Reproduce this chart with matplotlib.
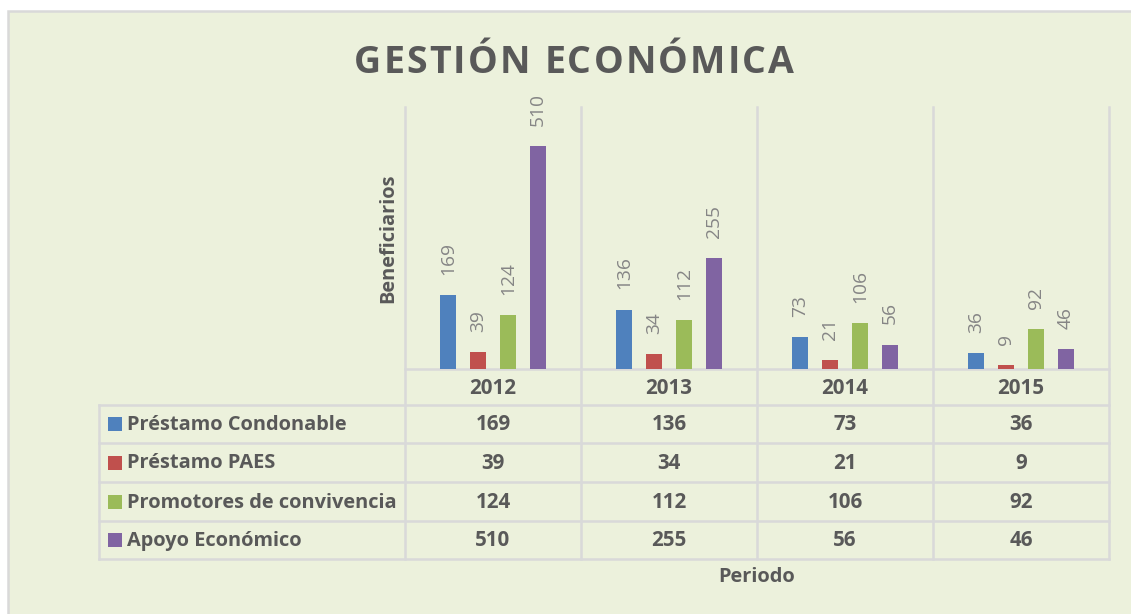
import matplotlib
matplotlib.use("Agg")
import matplotlib.pyplot as plt
from matplotlib.patches import Rectangle
from matplotlib.font_manager import FontProperties, findfont
from matplotlib.ft2font import FT2Font
import numpy as np

# ---- data ----
years = ["2012", "2013", "2014", "2015"]
series_names = ["Préstamo Condonable", "Préstamo PAES",
                "Promotores de convivencia", "Apoyo Económico"]
prestamo_condonable = [169, 136, 73, 36]
prestamo_paes = [39, 34, 21, 9]
promotores = [124, 112, 106, 92]
apoyo_economico = [510, 255, 56, 46]
series_values = [prestamo_condonable, prestamo_paes, promotores, apoyo_economico]
colors = ["#4F81BD", "#C0504D", "#9BBB59", "#8064A2"]

title = "GESTIÓN ECONÓMICA"
ylabel = "Beneficiarios"
xlabel = "Periodo"

# ---- style ----
FONT = "Open Sans"
BG = "#ECF1DC"
GRID = "#D9D9D9"
DARK = "#595959"
LABEL = "#858585"

W, H = 1131, 614
fig = plt.figure(figsize=(W / 100, H / 100), dpi=100)
fig.patch.set_facecolor("white")

# overlay axes in pixel coordinates
ov = fig.add_axes([0, 0, 1, 1], zorder=0)
ov.set_xlim(0, W)
ov.set_ylim(H, 0)
ov.axis("off")
ov.add_patch(Rectangle((8, 11), W + 10, H + 10, facecolor=BG,
                       edgecolor=GRID, linewidth=1.8))

# plot area geometry (pixels)
pl, pr, pbase, ptop = 405, 1109, 369, 107
col_w = (pr - pl) / len(years)
row_edges = [405, 443, 482, 521, 559]
tleft = 99

# bar axes
ax = fig.add_axes([pl / W, 1 - pbase / H, (pr - pl) / W, (pbase - ptop) / H],
                  zorder=2)
ax.patch.set_alpha(0)
ax.set_xlim(-0.5, len(years) - 0.5)
ax.set_ylim(0, 600)
for s in ax.spines.values():
    s.set_visible(False)
ax.set_xticks([])
ax.set_yticks([])

x = np.arange(len(years))
pitch = 0.1705
bw = 0.091
for i, (vals, c) in enumerate(zip(series_values, colors)):
    xs = x + (i - 1.5) * pitch
    ax.bar(xs, vals, width=bw, color=c, zorder=3)
    for xi, v in zip(xs, vals):
        ax.annotate(str(v), (xi, v), xytext=(0, 14.5), textcoords="offset points",
                    rotation=90, ha="center", va="bottom", fontsize=13.8,
                    color=LABEL, family=FONT)

# grid / table lines
lw = 1.8
for k in range(len(years) + 1):
    xk = pl + k * col_w
    ov.plot([xk, xk], [ptop, row_edges[-1]], color=GRID, lw=lw, zorder=1)
ov.plot([pl, pr], [pbase, pbase], color=GRID, lw=lw, zorder=1)
for ye in row_edges:
    ov.plot([tleft, pr], [ye, ye], color=GRID, lw=lw, zorder=1)
ov.plot([tleft, tleft], [row_edges[0], row_edges[-1]], color=GRID, lw=lw, zorder=1)

TFS = 14.4
# year header
for k, yr in enumerate(years):
    ov.text(pl + (k + 0.5) * col_w, (pbase + row_edges[0]) / 2 + 1, yr,
            ha="center", va="center", fontsize=TFS + 0.4, fontweight="bold",
            color=DARK, family=FONT)

# table rows
for r, (name, vals, c) in enumerate(zip(series_names, series_values, colors)):
    yc = (row_edges[r] + row_edges[r + 1]) / 2
    ov.add_patch(Rectangle((108, yc - 7), 14, 14, facecolor=c, edgecolor="none"))
    ov.text(127, yc + 1, name, ha="left", va="center", fontsize=TFS,
            fontweight="bold", color=DARK, family=FONT)
    for k, v in enumerate(vals):
        ov.text(pl + (k + 0.5) * col_w, yc + 1, str(v), ha="center", va="center",
                fontsize=TFS + 0.4, fontweight="bold", color=DARK, family=FONT)

# axis titles
ov.text(388, 238, ylabel, rotation=90, ha="center", va="center", fontsize=TFS,
        fontweight="bold", color=DARK, family=FONT)
ov.text(757, 577, xlabel, ha="center", va="center", fontsize=TFS,
        fontweight="bold", color=DARK, family=FONT)

# title with letter spacing
tfs = 27
fp = FontProperties(family=FONT, weight="bold", size=tfs)
ft = FT2Font(findfont(fp))
ft.set_size(tfs, 100)
adv = [ft.load_char(ord(ch)).linearHoriAdvance / 65536 for ch in title]
target_w = 440
spacing = (target_w - sum(adv)) / (len(title) - 1)
xc = 574 - target_w / 2
for ch, a in zip(title, adv):
    ov.text(xc, 73, ch, ha="left", va="baseline", fontproperties=fp, color=DARK)
    xc += a + spacing

fig.savefig("out.png", dpi=100, facecolor=fig.get_facecolor())
